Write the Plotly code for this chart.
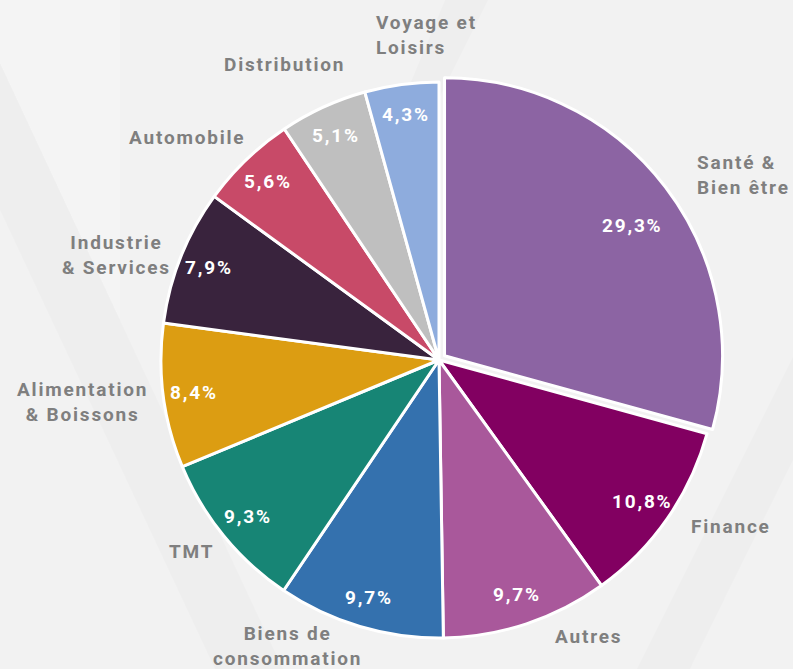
import math
import plotly.graph_objects as go

# ---------------- data ----------------
sectors = ["Santé & Bien être", "Finance", "Autres", "Biens de consommation", "TMT",
           "Alimentation & Boissons", "Industrie & Services", "Automobile",
           "Distribution", "Voyage et Loisirs"]
sector_labels = ["Santé &<br>Bien être", "Finance", "Autres", "Biens de<br>consommation", "TMT",
                 "Alimentation<br>& Boissons", "Industrie<br>& Services", "Automobile",
                 "Distribution", "Voyage et<br>Loisirs"]
shares = [29.3, 10.8, 9.7, 9.7, 9.3, 8.4, 7.9, 5.6, 5.1, 4.3]

# ---------------- style ----------------
colors = ["#8c64a3", "#820061", "#a9589b", "#3471ae", "#178575",
          "#dc9d12", "#39233d", "#c84a68", "#bfbfbf", "#8eacdd"]
pulls = [0.025, 0, 0, 0, 0, 0, 0, 0, 0, 0]
# label placement (radius factor, angle shift in degrees) and alignment
label_place = [(1.28, 6.0), (1.21, -5.1), (1.13, -10.1), (1.165, 11.3), (1.126, 1.5),
               (1.29, 0.8), (1.22, -3.9), (1.21, -4.7), (1.20, -2.9), (1.17, 5.6)]
label_align = ["left", "center", "center", "center", "center",
               "center", "center", "center", "center", "left"]
pct_radius = [0.82, 0.89, 0.89, 0.89, 0.89, 0.89, 0.89, 0.89, 0.89, 0.89]
pct_shift = [2.5, 0, 0, 0, 0, 0, 0, 0, 0, 0]

W, H = 793, 669
CX, CY, R = 439, 360, 278          # pie centre / radius in pixels
max_pull = max(pulls)
half = R * (1 + max_pull)
dom_x = [(CX - half) / W, (CX + half) / W]
dom_y = [(H - CY - half) / H, (H - CY + half) / H]

FONT = "Roboto, Arial, sans-serif"
LS = "letter-spacing:1.8px"


def spaced(t):
    return "<br>".join(f'<span style="{LS}">{p}</span>' for p in t.split("<br>"))


fig = go.Figure(go.Pie(
    labels=sectors, values=shares, sort=False, direction="clockwise", rotation=0,
    marker=dict(colors=colors, line=dict(color="white", width=3)),
    pull=pulls, textinfo="none", hoverinfo="label+percent",
    domain=dict(x=dom_x, y=dom_y), showlegend=False,
))

total = sum(shares)
annotations = []
cum = 0.0
for i, v in enumerate(shares):
    mid = (cum + v / 2) / total * 360.0
    cum += v
    a = math.radians(mid + pct_shift[i])
    r = R * pct_radius[i] + R * pulls[i]
    px = CX + r * math.sin(a)
    py = CY - r * math.cos(a)
    pct = f"{v:.1f}".replace(".", ",") + "%"
    annotations.append(dict(
        x=px / W, y=1 - py / H, xref="paper", yref="paper", showarrow=False,
        text="<b>" + spaced(pct) + "</b>", xanchor="center", yanchor="middle",
        font=dict(family=FONT, size=19, color="white")))
    rf, dth = label_place[i]
    b = math.radians(mid + dth)
    lx = CX + R * rf * math.sin(b)
    ly = CY - R * rf * math.cos(b)
    annotations.append(dict(
        x=lx / W, y=1 - ly / H, xref="paper", yref="paper", showarrow=False,
        text="<b>" + spaced(sector_labels[i]) + "</b>", xanchor="center", yanchor="middle",
        align=label_align[i],
        font=dict(family=FONT, size=19, color="#7f7f7f")))


def poly(points, color):
    path = "M " + " L ".join(f"{x / W},{1 - y / H}" for x, y in points) + " Z"
    return dict(type="path", xref="paper", yref="paper", path=path,
                fillcolor=color, line=dict(width=0), layer="below")


shapes = [
    poly([(0, 0), (120, 0), (120, 320), (0, 63)], "rgba(255,255,255,0.2)"),
    poly([(0, 63), (283, 669), (215, 669), (0, 210)], "rgba(0,0,0,0.015)"),
    poly([(488, 0), (440, 96), (405, 96), (445, 0)], "rgba(0,0,0,0.015)"),
    poly([(793, 357), (637, 669), (690, 669), (793, 460)], "rgba(0,0,0,0.017)"),
]

fig.update_layout(
    width=W, height=H, margin=dict(l=0, r=0, t=0, b=0),
    paper_bgcolor="#f2f2f2", plot_bgcolor="#f2f2f2",
    annotations=annotations, shapes=shapes,
)

fig.write_html("out.html", config={"displayModeBar": False},
               post_script="document.body.style.margin='0';document.body.style.overflow='hidden';")
